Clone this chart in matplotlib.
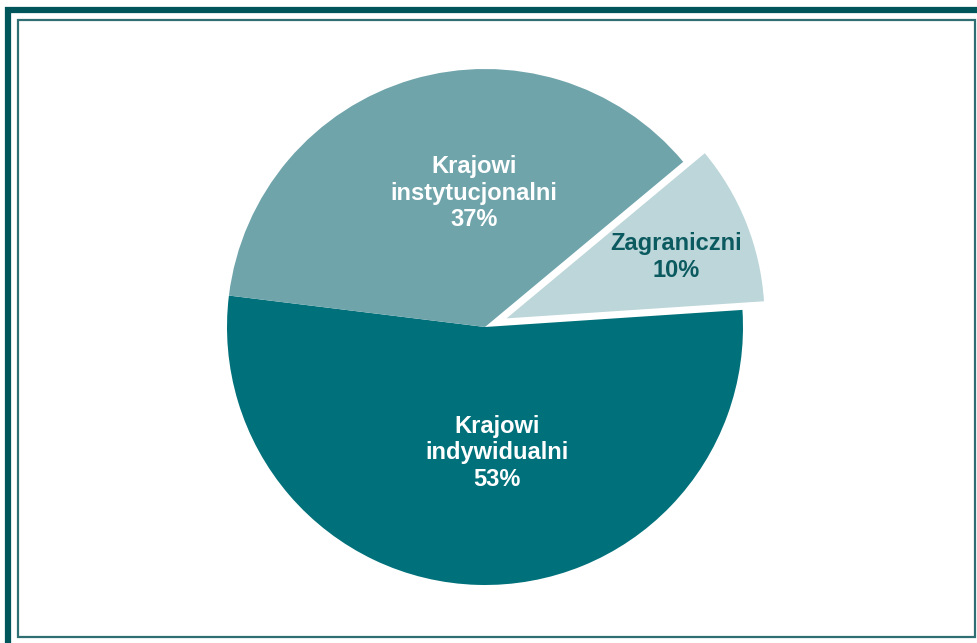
import matplotlib.pyplot as plt
import matplotlib.patches as mpatches
import numpy as np

labels = ["Krajowi\nindywidualni", "Zagraniczni", "Krajowi\ninstytucjonalni"]
shares = [53, 10, 37]
colors = ["#00717a", "#bcd6d9", "#6fa4ab"]
text_colors = ["white", "#0b5a60", "white"]
explode = [0, 0.09, 0]
# label placement: fraction of radius, angular shift from wedge middle (deg)
label_dist = [0.49, 0.70, 0.52]
label_shift = [7, -2, -11.7]

W, H = 977, 643
fig = plt.figure(figsize=(W / 100, H / 100), dpi=100)
plt.rcParams['font.family'] = ['Liberation Sans', 'DejaVu Sans']

# frame: thick outer line on top/left, thin inner box
frame = "#00555b"
fig.patches.append(mpatches.Rectangle((8 / W, -0.1), 1.2, (643 - 10) / H + 0.1,
                                      transform=fig.transFigure, fill=False,
                                      edgecolor=frame, linewidth=4.5))
fig.patches.append(mpatches.Rectangle((18 / W, (643 - 637) / H), (975 - 18) / W, (637 - 20) / H,
                                      transform=fig.transFigure, fill=False,
                                      edgecolor="#2f6f74", linewidth=1.6))

cx, cy, R, half = 485, 327, 258, 300
ax = fig.add_axes([(cx - half) / W, (H - cy - half) / H, 2 * half / W, 2 * half / H])
wedges, _ = ax.pie(shares, colors=colors, explode=explode, startangle=173,
                   counterclock=True, radius=1,
                   wedgeprops=dict(linewidth=0))
ax.set_xlim(-half / R, half / R)
ax.set_ylim(-half / R, half / R)
ax.axis('off')

for w, lab, val, d, s, tc in zip(wedges, labels, shares, label_dist, label_shift, text_colors):
    mid = np.deg2rad((w.theta1 + w.theta2) / 2 + s)
    x = w.center[0] + d * np.cos(mid)
    y = w.center[1] + d * np.sin(mid)
    ax.text(x, y, f"{lab}\n{val}%", ha='center', va='center', color=tc,
            fontsize=17, fontweight='bold', linespacing=1.2)

fig.savefig("out.png", dpi=100)
